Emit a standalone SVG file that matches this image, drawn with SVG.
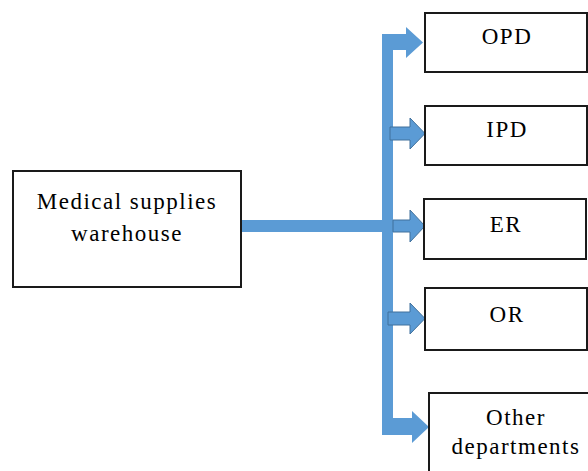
<svg xmlns="http://www.w3.org/2000/svg" width="588" height="471" viewBox="0 0 588 471">
<style>
.box{fill:#fff;stroke:#1a1a1a;stroke-width:2}
.lbl{font-family:"Liberation Serif","Times New Roman",serif;font-size:23px;letter-spacing:1.5px;fill:#000;text-anchor:middle}
.bar{fill:#5B9BD5}
.arr{fill:#5B9BD5;stroke:#41719C;stroke-width:1}
</style>
<rect width="588" height="471" fill="#fff"/>
<g id="connectors">
<rect class="bar" x="241" y="220" width="142" height="12"/>
<path class="bar" d="M382,34 H406 V27 L423,42.5 L406,58 V50 H393 V418 H412 V411 L429,427 L412,443 V435 H382 Z"/>
<path class="arr" d="M390,127 H410 V118 L425,133.5 L410,149 V140 H390 Z"/>
<path class="arr" d="M393,220 H410 V210 L425,226 L410,242 V232 H393 Z"/>
<path class="arr" d="M388,312 H410 V303 L425,318.5 L410,334 V325 H388 Z"/>
</g>
<g id="warehouse">
<rect class="box" x="13" y="171" width="228" height="116"/>
<text class="lbl" x="127" y="209">Medical supplies</text>
<text class="lbl" x="127" y="241">warehouse</text>
</g>
<g id="opd">
<rect class="box" x="425" y="13" width="162" height="59"/>
<text class="lbl" x="507" y="44">OPD</text>
</g>
<g id="ipd">
<rect class="box" x="425" y="106" width="162" height="59"/>
<text class="lbl" x="507" y="137">IPD</text>
</g>
<g id="er">
<rect class="box" x="424" y="199" width="162" height="60"/>
<text class="lbl" x="506" y="232">ER</text>
</g>
<g id="or">
<rect class="box" x="425" y="288" width="162" height="62"/>
<text class="lbl" x="507" y="322">OR</text>
</g>
<g id="other">
<rect class="box" x="429" y="393" width="172" height="90"/>
<text class="lbl" x="516" y="425">Other</text>
<text class="lbl" x="516" y="454">departments</text>
</g>
</svg>
